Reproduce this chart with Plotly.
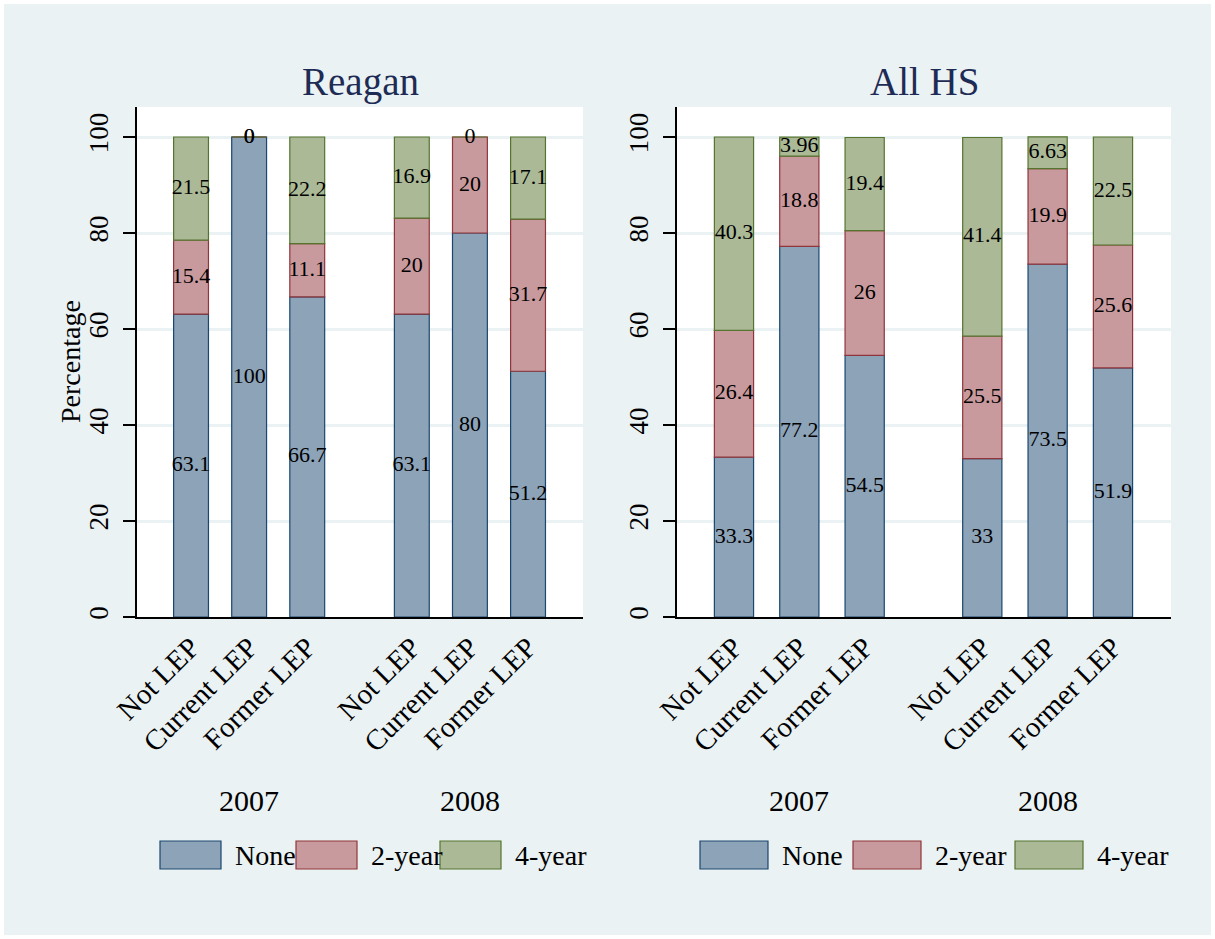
import plotly.graph_objects as go

W, H = 1215, 939
FONT = "Liberation Serif"

# ---------------- data ----------------
categories = ["Not LEP", "Current LEP", "Former LEP"]
years = ["2007", "2008"]
series_names = ["None", "2-year", "4-year"]
panel_titles = ["Reagan", "All HS"]

# values ordered: 2007 (Not, Current, Former), 2008 (Not, Current, Former)
reagan_none = [63.1, 100, 66.7, 63.1, 80, 51.2]
reagan_2yr = [15.4, 0, 11.1, 20, 20, 31.7]
reagan_4yr = [21.5, 0, 22.2, 16.9, 0, 17.1]

allhs_none = [33.3, 77.2, 54.5, 33, 73.5, 51.9]
allhs_2yr = [26.4, 18.8, 26, 25.5, 19.9, 25.6]
allhs_4yr = [40.3, 3.96, 19.4, 41.4, 6.63, 22.5]

y_ticks = [0, 20, 40, 60, 80, 100]

# ---------------- style ----------------
fills = ["#8DA3B8", "#C99A9D", "#ABB997"]
edges = ["#1A476F", "#90353B", "#55752F"]
bg = "#EAF2F3"

# bar slots: two groups of three, separated by a wider gap
xpos = [1, 2, 3, 4.8, 5.8, 6.8]

panels = [
    dict(data=[reagan_none, reagan_2yr, reagan_4yr], xa="x", ya="y",
         dom=[137 / W, 583 / W], rng=[0.07, 7.746]),
    dict(data=[allhs_none, allhs_2yr, allhs_4yr], xa="x2", ya="y2",
         dom=[677 / W, 1171 / W], rng=[0.128, 7.688]),
]

fig = go.Figure()

for p in panels:
    base = [0] * len(xpos)
    for si, vals in enumerate(p["data"]):
        fig.add_trace(go.Bar(
            x=xpos, y=vals, base=base, width=0.6,
            marker=dict(color=fills[si], line=dict(color=edges[si], width=1.2)),
            xaxis=p["xa"], yaxis=p["ya"], showlegend=False, hoverinfo="skip",
        ))
        centers = [b + v / 2 for b, v in zip(base, vals)]
        fig.add_trace(go.Scatter(
            x=xpos, y=centers, mode="text",
            text=[("%.3g" % v) for v in vals],
            textposition="middle center",
            textfont=dict(family=FONT, size=22, color="black"),
            xaxis=p["xa"], yaxis=p["ya"], showlegend=False, hoverinfo="skip",
            cliponaxis=False,
        ))
        base = [b + v for b, v in zip(base, vals)]

ydom = [1 - 617 / H, 1 - 107 / H]
xaxis_common = dict(
    tickvals=xpos, ticktext=categories * 2, tickangle=-45, ticks="",
    tickfont=dict(family=FONT, size=29, color="black"),
    showgrid=False, zeroline=False, showline=True, linecolor="black",
    linewidth=1.5, fixedrange=True, automargin=False,
)
yaxis_common = dict(
    range=[0, 106.25], tickvals=y_ticks, tickangle=-90,
    ticks="outside", ticklen=12, tickwidth=1.5, tickcolor="black",
    tickfont=dict(family=FONT, size=27, color="black"),
    ticklabelstandoff=4,
    showgrid=True, gridcolor=bg, gridwidth=3, zeroline=False,
    showline=True, linecolor="black", linewidth=1.5, automargin=False,
    domain=ydom, fixedrange=True,
)

fig.update_layout(
    width=W, height=H, margin=dict(l=0, r=0, t=0, b=0),
    paper_bgcolor=bg, plot_bgcolor="white", barmode="overlay",
    xaxis=dict(domain=panels[0]["dom"], range=panels[0]["rng"], anchor="y", **xaxis_common),
    yaxis=dict(anchor="x", **yaxis_common),
    xaxis2=dict(domain=panels[1]["dom"], range=panels[1]["rng"], anchor="y2", **xaxis_common),
    yaxis2=dict(anchor="x2", **yaxis_common),
)

annotations = []
for i, p in enumerate(panels):
    annotations.append(dict(
        text=panel_titles[i], xref=p["xa"] + " domain", yref="paper",
        x=0.5, y=1 - 82 / H, xanchor="center", yanchor="middle", showarrow=False,
        font=dict(family=FONT, size=39, color="#1E2B55"),
    ))
    for gi, yr in enumerate(years):
        grp = xpos[gi * 3:(gi + 1) * 3]
        annotations.append(dict(
            text=yr, xref=p["xa"], yref="paper",
            x=sum(grp) / len(grp), y=1 - 800 / H, xanchor="center", yanchor="middle",
            showarrow=False, font=dict(family=FONT, size=30, color="black"),
        ))

annotations.append(dict(
    text="Percentage", xref="paper", yref="paper", x=70 / W, y=1 - 362 / H,
    textangle=-90, xanchor="center", yanchor="middle", showarrow=False,
    font=dict(family=FONT, size=28, color="black"),
))

# legends (swatches + labels, one per panel)
shapes = []
legend_layouts = [
    dict(box_x=[160, 296, 440], box_w=61),
    dict(box_x=[700, 853, 1015], box_w=68),
]
ly0, ly1 = 841, 869
for lg in legend_layouts:
    for si, name in enumerate(series_names):
        x0 = lg["box_x"][si]
        x1 = x0 + lg["box_w"]
        shapes.append(dict(
            type="rect", xref="paper", yref="paper",
            x0=x0 / W, x1=x1 / W, y0=1 - ly1 / H, y1=1 - ly0 / H,
            fillcolor=fills[si], line=dict(color=edges[si], width=1.2),
        ))
        annotations.append(dict(
            text=name, xref="paper", yref="paper", x=(x1 + 12) / W,
            y=1 - (ly0 + ly1) / 2 / H, xanchor="left", yanchor="middle",
            showarrow=False, font=dict(family=FONT, size=28, color="black"),
        ))

# white outer border
shapes.append(dict(type="rect", xref="paper", yref="paper", x0=0, x1=1, y0=0, y1=1,
                   line=dict(color="white", width=8), fillcolor="rgba(0,0,0,0)",
                   layer="above"))

fig.update_layout(annotations=annotations, shapes=shapes)

fig.write_html("out.html", config={"displayModeBar": False},
               post_script="document.body.style.margin='0';document.body.style.overflow='hidden';")
